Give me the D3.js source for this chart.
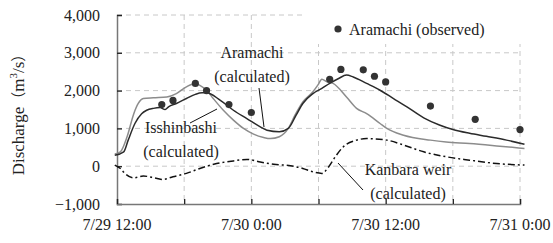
<!DOCTYPE html>
<html>
<head>
<meta charset="utf-8">
<script src="https://cdn.jsdelivr.net/npm/d3@7"></script>
<style>
  body { margin: 0; background: #fff; }
  svg text { font-family: "Liberation Serif", "Times New Roman", serif; fill: #222; }
</style>
</head>
<body>
<div id="chart-container" style="width:553px;height:243px"></div>
<script>
// hours after 7/29 12:00
var obsHours = [4, 5, 7, 8, 10, 12, 19, 20, 22, 23, 24, 28, 32, 36];
var obsValues = [1630, 1740, 2190, 2000, 1630, 1420, 2300, 2560, 2550, 2380, 2230, 1590, 1240, 970];

var aramachiHours = [-0.2, 0.6, 1.0, 1.6, 2.2, 2.65, 3.25, 3.85, 4.3, 4.6, 5.3, 6.2, 7.0, 7.6, 8.0, 9.2, 10.4, 11.6, 12.8, 13.4, 14.5, 15.3, 16.0, 16.6, 17.5, 18.3, 19.0, 19.8, 20.5, 21.1, 22.3, 23.5, 24.7, 25.9, 27.4, 28.8, 30.0, 31.5, 33.0, 34.8, 36.4];
var aramachiValues = [290, 380, 690, 1130, 1390, 1480, 1530, 1550, 1500, 1570, 1660, 1790, 1900, 1940, 1940, 1750, 1480, 1260, 1040, 950, 910, 1000, 1350, 1660, 1920, 2060, 2190, 2320, 2410, 2360, 2190, 2010, 1790, 1570, 1280, 1090, 970, 870, 790, 690, 580];

var isshinHours = [-0.2, 0.3, 0.9, 1.5, 1.9, 2.35, 3.25, 4.45, 5.3, 6.2, 7.0, 7.4, 8.0, 8.6, 9.5, 10.4, 11.3, 12.2, 13.1, 13.7, 14.5, 15.3, 15.9, 16.6, 17.5, 17.95, 18.3, 18.75, 19.3, 20.5, 21.4, 22.3, 23.5, 24.1, 25.6, 28.0, 29.4, 31.5, 34.2, 36.4];
var isshinValues = [320, 380, 780, 1390, 1660, 1790, 1810, 1830, 1920, 2100, 2190, 2140, 2010, 1790, 1480, 1220, 1000, 850, 760, 730, 780, 1000, 1350, 1700, 1970, 2150, 2300, 2230, 2190, 1830, 1530, 1390, 1130, 1000, 820, 690, 640, 600, 530, 470];

var kanbaraHours = [-0.2, 0.3, 0.7, 1.5, 2.35, 3.5, 4.1, 5.0, 6.2, 7.4, 8.9, 10.4, 11.6, 12.8, 14.0, 15.5, 16.6, 17.5, 18.3, 18.9, 19.5, 20.2, 21.4, 22.3, 24.1, 25.6, 27.4, 29.4, 31.5, 33.9, 36.4];
var kanbaraValues = [30, -60, -190, -310, -260, -320, -350, -280, -190, -60, 70, 140, 180, 110, 50, 10, -60, -150, -190, -20, 250, 510, 690, 730, 690, 560, 380, 250, 160, 70, 30];

var yTicks = [-1000, 0, 1000, 2000, 3000, 4000];
var xGridHours = [0, 6, 12, 18, 24, 30, 36];
var xLabelHours = [0, 12, 24, 36];
var xLabels = ["7/29 12:00", "7/30 0:00", "7/30 12:00", "7/31 0:00"];

var width = 553, height = 243;
var svg = d3.select("#chart-container").append("svg")
    .attr("width", width)
    .attr("height", height);

var xScale = d3.scaleLinear().domain([0, 36]).range([117, 520]);
var yScale = d3.scaleLinear().domain([-1000, 4000]).range([204, 15]);

// gridlines
svg.append("g").selectAll("line").data(yTicks.filter(d => d > -1000)).enter().append("line")
    .attr("x1", xScale(0)).attr("x2", xScale(36))
    .attr("y1", d => yScale(d)).attr("y2", d => yScale(d))
    .attr("stroke", "#c8c8c8").attr("stroke-dasharray", "5,4");
svg.append("g").selectAll("line").data(xGridHours.slice(1)).enter().append("line")
    .attr("x1", d => xScale(d)).attr("x2", d => xScale(d))
    .attr("y1", yScale(4000)).attr("y2", yScale(-1000))
    .attr("stroke", "#c8c8c8").attr("stroke-dasharray", "5,4");

// legend box hides the grid behind it
svg.append("rect").attr("x", 303).attr("y", 4).attr("width", 240).attr("height", 40).attr("fill", "#fff");

// axes
var yAxis = d3.axisLeft(yScale).tickValues(yTicks).tickSize(-5).tickPadding(17)
    .tickFormat(d3.format(","));
var gY = svg.append("g").attr("transform", "translate(" + xScale(0) + ",0)").call(yAxis);
var xAxis = d3.axisBottom(xScale).tickValues(xGridHours).tickSize(-5).tickFormat("");
var gX = svg.append("g").attr("transform", "translate(0," + yScale(-1000) + ")").call(xAxis);
[gX, gY].forEach(g => {
    g.attr("font-family", null);
    g.select(".domain").attr("stroke", "#777").attr("stroke-width", 1.5);
    g.selectAll(".tick line").attr("stroke", "#222").attr("stroke-width", 1.3);
});
gY.selectAll("text").attr("font-size", 16).attr("fill", "#222");

svg.append("g").selectAll("text").data(xLabelHours).enter().append("text")
    .attr("x", d => xScale(d)).attr("y", 230)
    .attr("text-anchor", "middle").attr("font-size", 16)
    .text((d, i) => xLabels[i]);

// y label
var yl = svg.append("text")
    .attr("transform", "translate(24,111) rotate(-90)")
    .attr("text-anchor", "middle").attr("font-size", 17);
yl.append("tspan").text("Discharge");
yl.append("tspan").attr("font-family", "Noto Sans CJK JP").attr("font-size", 15).text("（");
yl.append("tspan").text("m");
yl.append("tspan").attr("font-size", 11).attr("dy", -7).text("3");
yl.append("tspan").attr("dy", 7).text("/s");
yl.append("tspan").attr("font-family", "Noto Sans CJK JP").attr("font-size", 15).text("）");

var line = d3.line().curve(d3.curveMonotoneX).x(d => xScale(d[0])).y(d => yScale(d[1]));

svg.append("path").datum(d3.zip(isshinHours, isshinValues))
    .attr("d", line).attr("fill", "none").attr("stroke", "#8c8c8c").attr("stroke-width", 1.5);
svg.append("path").datum(d3.zip(aramachiHours, aramachiValues))
    .attr("d", line).attr("fill", "none").attr("stroke", "#2b2b2b").attr("stroke-width", 1.5);
svg.append("path").datum(d3.zip(kanbaraHours, kanbaraValues))
    .attr("d", line).attr("fill", "none").attr("stroke", "#111").attr("stroke-width", 1.5)
    .attr("stroke-dasharray", "7,3,2,3");

svg.append("g").selectAll("circle").data(d3.zip(obsHours, obsValues)).enter().append("circle")
    .attr("cx", d => xScale(d[0])).attr("cy", d => yScale(d[1])).attr("r", 3.6)
    .attr("fill", "#333");

// legend
svg.append("circle").attr("cx", 338).attr("cy", 29).attr("r", 3.6).attr("fill", "#333");
svg.append("text").attr("x", 349).attr("y", 35).attr("font-size", 16).text("Aramachi (observed)");

// annotations
function label(x, y, lines) {
    var t = svg.append("text").attr("text-anchor", "middle").attr("font-size", 16);
    lines.forEach((s, i) => t.append("tspan").attr("x", x).attr("y", y + i * 24).text(s));
}
label(252, 58, ["Aramachi", "(calculated)"]);
label(181, 133, ["Isshinbashi", "(calculated)"]);
label(408, 175, ["Kanbara weir", "(calculated)"]);

var leaders = [[259, 88, 264, 127], [190, 123, 217, 109], [338, 163, 363, 190]];
svg.append("g").selectAll("line").data(leaders).enter().append("line")
    .attr("x1", d => d[0]).attr("y1", d => d[1]).attr("x2", d => d[2]).attr("y2", d => d[3])
    .attr("stroke", "#111").attr("stroke-width", 1);
</script>
</body>
</html>
